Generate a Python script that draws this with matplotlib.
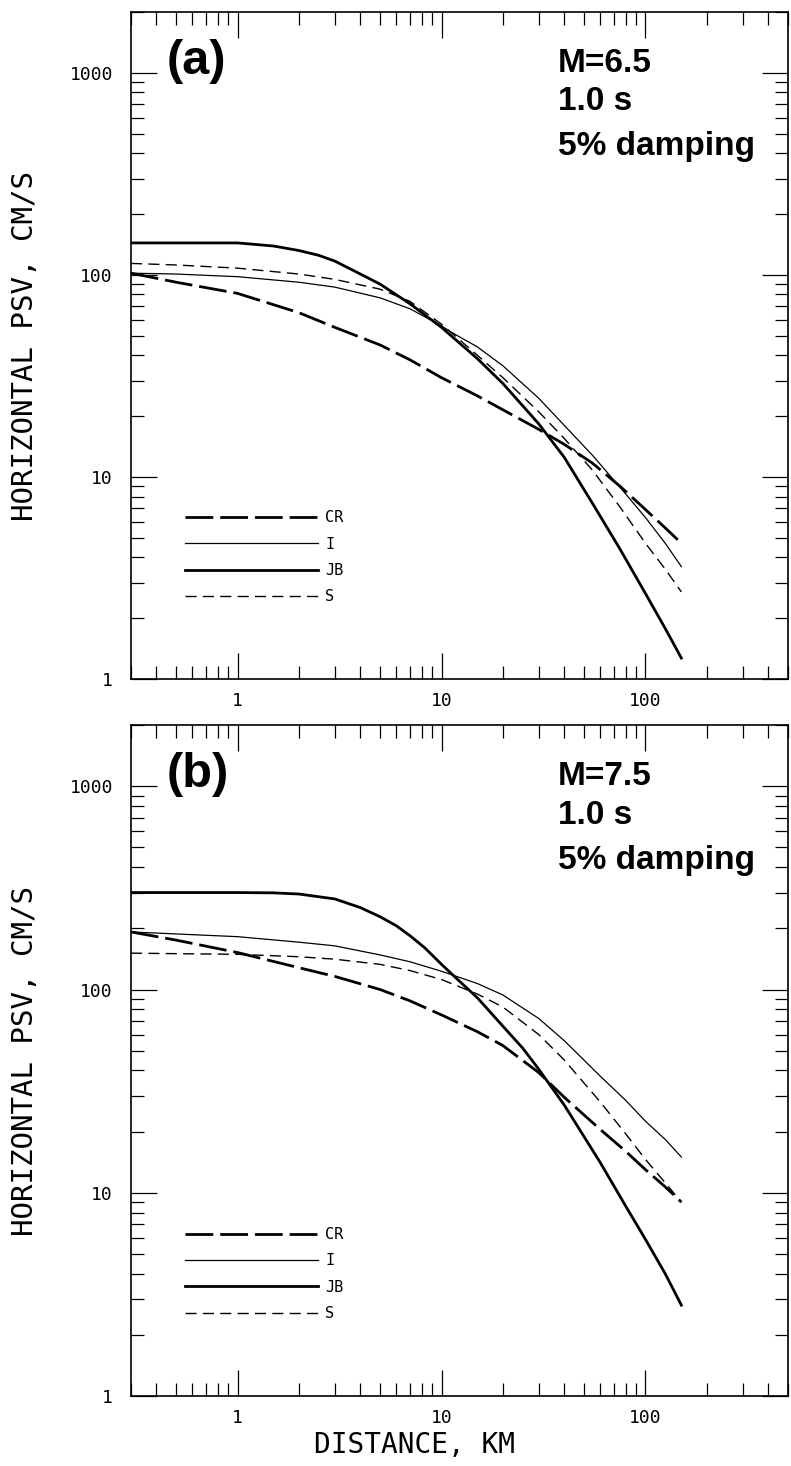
import numpy as np
import matplotlib.pyplot as plt
from matplotlib.ticker import LogLocator, NullFormatter

plt.rcParams['lines.scale_dashes'] = False

# (a) M = 6.5, 1.0 s, 5% damping
dist_cr_a = [0.3, 0.5, 1, 2, 3, 5, 7, 10, 15, 20, 30, 40, 55, 75, 100, 125, 150]
cr_a = [102, 92, 81, 65, 55, 45, 38, 31, 25.2, 21.5, 17.2, 14.5, 11.7, 9.0, 6.9, 5.6, 4.7]
dist_i_a = [0.3, 0.5, 1, 2, 3, 5, 7, 10, 11, 15, 20, 30, 40, 55, 75, 100, 125, 150]
i_a = [102, 101, 98, 92, 87, 77, 68, 56, 52.5, 44, 35.5, 24.5, 18, 12.8, 8.9, 6.3, 4.7, 3.6]
dist_jb_a = [0.3, 1, 1.5, 2, 2.5, 3, 4, 5, 7, 10, 15, 20, 30, 40, 55, 75, 100, 125, 150]
jb_a = [144, 144, 139, 132, 125, 117, 101, 90, 72, 55, 38.5, 29, 18.3, 12.5, 7.4, 4.4, 2.65, 1.78, 1.27]
dist_s_a = [0.3, 0.5, 1, 2, 3, 5, 7, 10, 11, 15, 20, 30, 40, 55, 75, 100, 125, 150]
s_a = [114, 112, 108, 101, 95, 85, 74, 57, 52.5, 40, 31, 21, 15.5, 10.8, 7.1, 4.7, 3.5, 2.7]

# (b) M = 7.5, 1.0 s, 5% damping
dist_cr_b = [0.3, 0.5, 1, 2, 3, 5, 7, 10, 15, 20, 30, 40, 60, 80, 100, 125, 150]
cr_b = [192, 175, 152, 128, 116, 100, 88, 75, 62, 53, 39, 29.5, 20.5, 16, 13, 10.7, 9]
dist_i_b = [0.3, 1, 2, 3, 5, 7, 10, 15, 20, 30, 40, 60, 80, 100, 125, 150]
i_b = [192, 182, 171, 164, 148, 137, 123, 107, 94, 72, 56, 37.5, 28.5, 22.5, 18.3, 15]
dist_jb_b = [0.3, 1, 1.5, 2, 3, 4, 5, 6, 7, 8.3, 10, 12, 15, 20, 25, 30, 40, 60, 80, 100, 125, 150]
jb_b = [300, 300, 299, 295, 279, 253, 228, 206, 184, 160, 133, 112, 91, 66, 51.5, 40.5, 27, 14.1, 8.6, 5.9, 4.0, 2.8]
dist_s_b = [0.3, 1, 2, 3, 5, 7, 10, 15, 20, 30, 40, 60, 80, 100, 125, 150]
s_b = [151, 149, 145, 141, 133, 124, 112, 95, 82, 60, 45, 28, 19.5, 14.6, 11.2, 9]

names = ['CR', 'I', 'JB', 'S']
styles = {
    'CR': dict(color='black', lw=2.0, dashes=(20, 5)),
    'I': dict(color='black', lw=0.9),
    'JB': dict(color='black', lw=2.0),
    'S': dict(color='black', lw=1.0, dashes=(8, 4.5)),
}

panels = [
    ('(a)', 'M=6.5', [(dist_cr_a, cr_a), (dist_i_a, i_a), (dist_jb_a, jb_a), (dist_s_a, s_a)]),
    ('(b)', 'M=7.5', [(dist_cr_b, cr_b), (dist_i_b, i_b), (dist_jb_b, jb_b), (dist_s_b, s_b)]),
]
boxes = [[0.1656, 0.5368, 0.8306, 0.4550], [0.1656, 0.0477, 0.8306, 0.4577]]

mono = 'DejaVu Sans Mono'
fig = plt.figure(figsize=(7.91, 14.66), dpi=100)

for k, (tag, mag, curves) in enumerate(panels):
    ax = fig.add_axes(boxes[k])
    for name, (x, y) in zip(names, curves):
        ax.plot(x, y, label=name, **styles[name])

    ax.set_xscale('log')
    ax.set_yscale('log')
    ax.set_xlim(0.3, 500)
    ax.set_ylim(1, 2000)
    ax.set_xticks([1, 10, 100], ['1', '10', '100'])
    ax.set_yticks([1, 10, 100, 1000], ['1', '10', '100', '1000'])
    ax.xaxis.set_minor_locator(LogLocator(base=10, subs=np.arange(2, 10)))
    ax.yaxis.set_minor_locator(LogLocator(base=10, subs=np.arange(2, 10)))
    ax.xaxis.set_minor_formatter(NullFormatter())
    ax.yaxis.set_minor_formatter(NullFormatter())
    ax.tick_params(which='both', direction='in', top=True, right=True, width=0.9,
                   labelsize=13, labelfontfamily=mono)
    ax.tick_params(which='major', length=19)
    ax.tick_params(which='minor', length=9.5)
    ax.tick_params(axis='y', pad=13)
    ax.tick_params(axis='x', pad=9)
    for sp in ax.spines.values():
        sp.set_linewidth(1.2)

    ax.set_ylabel('HORIZONTAL PSV, CM/S', family=mono, fontsize=21)
    ax.yaxis.set_label_coords(-0.14, 0.5)

    ax.text(0.055, 0.926, tag, transform=ax.transAxes, fontsize=35,
            fontweight='bold', family='Liberation Sans', va='center', ha='left')
    for txt, yy in zip([mag, '1.0 s', '5% damping'], [0.910, 0.853, 0.786]):
        ax.text(0.65, yy, txt, transform=ax.transAxes, fontsize=24,
                fontweight='bold', family='Liberation Sans', va='baseline', ha='left')

    ax.legend(loc='lower left', bbox_to_anchor=(0.082, 0.112), frameon=False,
              handlelength=8.7, handletextpad=0.5, labelspacing=0.74,
              borderaxespad=0, borderpad=0, prop={'family': mono, 'size': 11})

    if k == 1:
        ax.set_xlabel('DISTANCE, KM', family=mono, fontsize=20)
        ax.xaxis.set_label_coords(0.431, -0.052)

fig.savefig('out.png', dpi=100)
